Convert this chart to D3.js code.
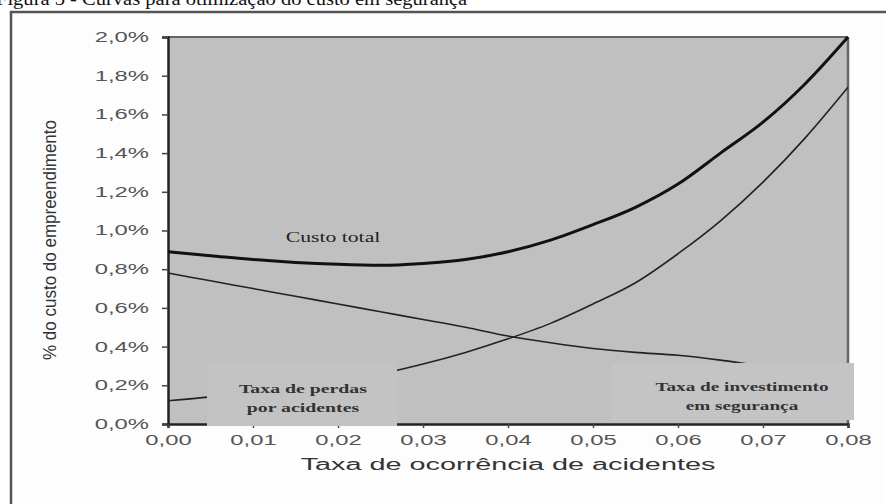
<!DOCTYPE html>
<html><head><meta charset="utf-8">
<script src="https://cdn.jsdelivr.net/npm/d3@7"></script>
<style>body{margin:0;background:#fff}svg{display:block}</style>
</head><body>
<svg id="c" width="886" height="504"></svg>
<script>
const xValues = [0,0.005,0.01,0.015,0.02,0.025,0.03,0.035,0.04,0.045,0.05,0.055,0.06,0.065,0.07,0.075,0.08];
const custoTotal = [0.89,0.87,0.85,0.835,0.825,0.82,0.83,0.85,0.89,0.95,1.03,1.12,1.24,1.40,1.56,1.76,2.0];
const perdas = [0.78,0.74,0.70,0.66,0.62,0.58,0.54,0.50,0.455,0.42,0.39,0.37,0.355,0.33,0.30,0.28,0.26];
const investimento = [0.12,0.14,0.17,0.20,0.23,0.26,0.31,0.37,0.44,0.52,0.62,0.73,0.88,1.05,1.25,1.48,1.74];
const xTicks = [0,0.01,0.02,0.03,0.04,0.05,0.06,0.07,0.08];
const yTicks = [0,0.2,0.4,0.6,0.8,1.0,1.2,1.4,1.6,1.8,2.0];
const title = "Figura 5 - Curvas para otimização do custo em segurança";
const xTitle = "Taxa de ocorrência de acidentes";
const yTitle = "% do custo do empreendimento";
const labelCusto = "Custo total";
const labelPerdas = ["Taxa de perdas","por acidentes"];
const labelInvest = ["Taxa de investimento","em segurança"];

const svg = d3.select("#c");
const L=168,R=848,T=37,B=424;
const x = d3.scaleLinear().domain([0,0.08]).range([L,R]);
const y = d3.scaleLinear().domain([0,2.0]).range([B,T]);
const fmtX = d => d.toFixed(2).replace(".",",");
const fmtY = d => d.toFixed(1).replace(".",",")+"%";
// horizontally stretched text (the reference scan is stretched sideways)
function stretch(sel, k){
  sel.each(function(){
    const w = this.getComputedTextLength();
    d3.select(this).attr("textLength", w*k).attr("lengthAdjust","spacingAndGlyphs");
  });
}
const sans = "Liberation Sans, Arial, sans-serif";
const serif = "Liberation Serif, Times New Roman, serif";

// title (cut off at top, as in the reference)
const t0 = svg.append("text").attr("x",-4).attr("y",5).attr("font-family",serif)
  .attr("font-size",19).attr("fill","#111").text(title);
stretch(t0,1.08);
// outer frame
svg.append("rect").attr("x",11).attr("y",12).attr("width",900).attr("height",520)
  .attr("fill","#fdfdfd").attr("stroke","#555").attr("stroke-width",2.5);

// plot background
svg.append("rect").attr("x",L).attr("y",T).attr("width",R-L).attr("height",B-T).attr("fill","#c0c0c0");
svg.append("line").attr("x1",L).attr("x2",R).attr("y1",T).attr("y2",T).attr("stroke","#666").attr("stroke-width",2);
svg.append("line").attr("x1",R).attr("x2",R).attr("y1",T).attr("y2",B).attr("stroke","#666").attr("stroke-width",2.5);

// axes
const yAxis = svg.append("g").attr("transform",`translate(${L},0)`)
  .call(d3.axisLeft(y).tickValues(yTicks).tickFormat(fmtY).tickSize(6).tickPadding(13));
const xAxis = svg.append("g").attr("transform",`translate(0,${B})`)
  .call(d3.axisBottom(x).tickValues(xTicks).tickFormat(fmtX).tickSize(4).tickPadding(7));
[yAxis,xAxis].forEach(a=>{
  a.selectAll("path").attr("stroke","#222").attr("stroke-width",2.5);
  a.selectAll("line").attr("stroke","#444").attr("stroke-width",1.5);
  a.selectAll("text").attr("font-family",sans).attr("font-size",14).attr("fill","#555");
  stretch(a.selectAll("text"),1.7);
});

// lines
const line = vals => d3.line().x((d,i)=>x(xValues[i])).y(d=>y(d)).curve(d3.curveMonotoneX)(vals);
svg.append("path").attr("d",line(perdas)).attr("fill","none").attr("stroke","#222").attr("stroke-width",1.6);
svg.append("path").attr("d",line(investimento)).attr("fill","none").attr("stroke","#222").attr("stroke-width",1.6);
svg.append("path").attr("d",line(custoTotal)).attr("fill","none").attr("stroke","#111").attr("stroke-width",3);

// label boxes
svg.append("rect").attr("x",207).attr("y",362).attr("width",190).attr("height",64).attr("fill","#c3c3c3");
svg.append("rect").attr("x",612).attr("y",363).attr("width",242).attr("height",57).attr("fill","#c4c4c4");

stretch(svg.append("text").attr("x",333).attr("y",242).attr("text-anchor","middle").attr("font-family",serif)
  .attr("font-size",14).attr("fill","#222").text(labelCusto),1.55);
labelPerdas.forEach((t,i)=>stretch(svg.append("text").attr("x",303).attr("y",393+i*19).attr("text-anchor","middle")
  .attr("font-family",serif).attr("font-weight","bold").attr("font-size",12).attr("fill","#333").text(t),1.65));
labelInvest.forEach((t,i)=>stretch(svg.append("text").attr("x",742).attr("y",391+i*19).attr("text-anchor","middle")
  .attr("font-family",serif).attr("font-weight","bold").attr("font-size",12).attr("fill","#333").text(t),1.6));

// axis titles
stretch(svg.append("text").attr("x",(L+R)/2).attr("y",470).attr("text-anchor","middle")
  .attr("font-family",sans).attr("font-size",16).attr("fill","#333").text(xTitle),1.8);
svg.append("text").attr("transform","translate(56,240) rotate(-90)").attr("text-anchor","middle")
  .attr("font-family",sans).attr("font-size",18).attr("fill","#333")
  .attr("textLength",240).attr("lengthAdjust","spacingAndGlyphs").text(yTitle);
</script>
</body></html>
